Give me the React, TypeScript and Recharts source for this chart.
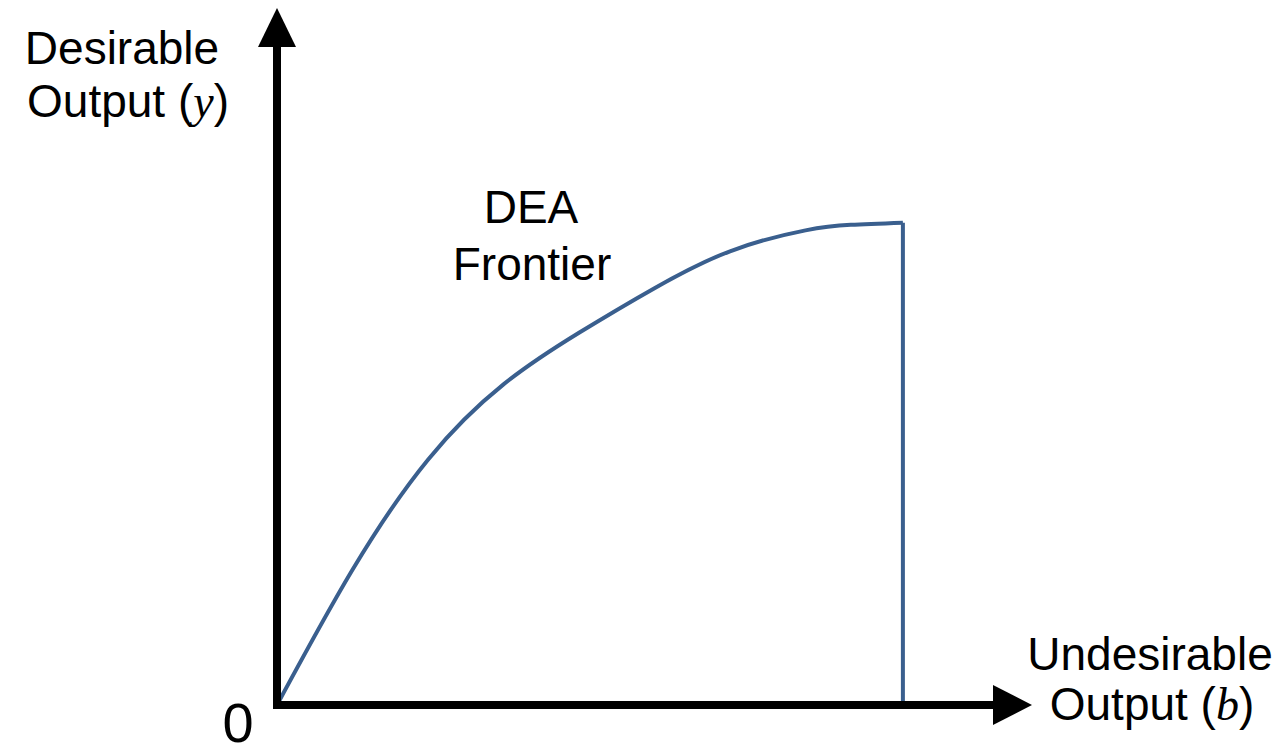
import React from 'react';
import { ComposedChart, Line, XAxis, YAxis, ReferenceLine, Customized } from 'recharts';

// undesirable output (b) and desirable output (y) along the frontier, 0-100 scale
const frontierB = [0, 10, 20, 30, 40, 50, 60, 70, 76, 82.9];
const frontierY = [0, 19.4, 35.2, 46.0, 53.4, 59.8, 65.1, 68.1, 68.9, 69.2];
const capB = 82.9;
const capY = 69.2;

const frontier = frontierB.map((b, i) => ({ b, y: frontierY[i] }));
const capLine = [
    { b: capB, y: capY },
    { b: capB, y: 0 },
];

const BLUE = '#3A5F8E';
const FONT = '"Liberation Sans", Arial, sans-serif';
const MATH = '"Liberation Serif", "DejaVu Serif", serif';

const upArrow = (props: any) => {
    const { x1, y1, x2, y2 } = props;
    return (
        <g>
            <line x1={x1} y1={y1} x2={x2} y2={y2 + 36} stroke="#000" strokeWidth={8} strokeLinecap="square" />
            <polygon points={`${x2},${y2} ${x2 - 19},${y2 + 39} ${x2 + 19},${y2 + 39}`} fill="#000" />
        </g>
    );
};

const rightArrow = (props: any) => {
    const { x1, y1, x2, y2 } = props;
    return (
        <g>
            <line x1={x1} y1={y1} x2={x2 - 36} y2={y2} stroke="#000" strokeWidth={8} strokeLinecap="square" />
            <polygon points={`${x2},${y2} ${x2 - 39},${y2 - 20} ${x2 - 39},${y2 + 20}`} fill="#000" />
        </g>
    );
};

const Labels = () => (
    <g fontFamily={FONT} fill="#000">
        <text x={122} y={64} fontSize={46} textAnchor="middle">Desirable</text>
        <text x={128} y={117} fontSize={46} textAnchor="middle">
            Output (<tspan fontFamily={MATH} fontStyle="italic">y</tspan>)
        </text>
        <text x={531} y={223} fontSize={46} textAnchor="middle">DEA</text>
        <text x={532} y={280} fontSize={46} textAnchor="middle">Frontier</text>
        <text x={1150} y={670} fontSize={46} textAnchor="middle">Undesirable</text>
        <text x={1152} y={720} fontSize={46} textAnchor="middle">
            Output (<tspan fontFamily={MATH} fontStyle="italic">b</tspan>)
        </text>
        <text x={238} y={742} fontSize={56} textAnchor="middle">0</text>
    </g>
);

export default function App() {
    return (
        <div style={{ position: 'absolute', left: 0, top: 0, width: 1284, height: 749, background: '#fff' }}>
            <ComposedChart
                width={1284}
                height={749}
                margin={{ top: 8, right: 252, bottom: 44, left: 277 }}
            >
                <XAxis type="number" dataKey="b" domain={[0, 100]} hide />
                <YAxis type="number" dataKey="y" domain={[0, 100]} hide />
                <Line
                    data={frontier}
                    dataKey="y"
                    type="natural"
                    stroke={BLUE}
                    strokeWidth={4}
                    dot={false}
                    activeDot={false}
                    isAnimationActive={false}
                />
                <Line
                    data={capLine}
                    dataKey="y"
                    type="linear"
                    stroke={BLUE}
                    strokeWidth={4}
                    dot={false}
                    activeDot={false}
                    isAnimationActive={false}
                />
                <ReferenceLine segment={[{ x: 0, y: 0 }, { x: 0, y: 100 }]} shape={upArrow} />
                <ReferenceLine segment={[{ x: 0, y: 0 }, { x: 100, y: 0 }]} shape={rightArrow} />
                <Customized component={Labels} />
            </ComposedChart>
        </div>
    );
}
